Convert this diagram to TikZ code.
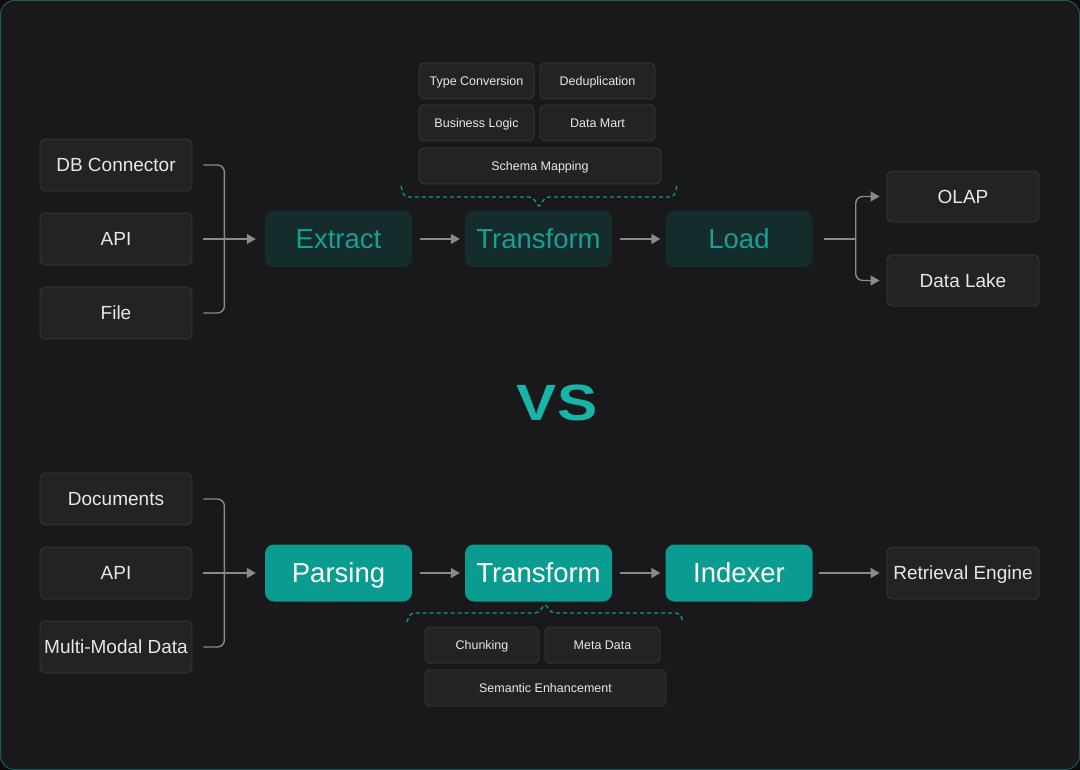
\documentclass[tikz,border=0pt]{standalone}
\usepackage{fontspec}
\setmainfont{Liberation Sans}
\usetikzlibrary{positioning, arrows.meta, calc}
\definecolor{pageBg}{RGB}{ 12, 12, 14}
\definecolor{panelBg}{RGB}{ 25, 24, 27}
\definecolor{panelEdge}{RGB}{ 30, 90, 85}
\definecolor{boxFill}{RGB}{ 35, 35, 38}
\definecolor{boxEdge}{RGB}{ 58, 58, 61}
\definecolor{boxText}{RGB}{232,232,232}
\definecolor{edgeBase}{RGB}{138,138,140}
\definecolor{tealDark}{RGB}{ 20, 44, 43}
\definecolor{tealText}{RGB}{ 24,160,148}
\definecolor{tealFill}{RGB}{ 10,156,145}
\definecolor{tealVs}{RGB}{ 22,181,168}
\tikzset{
    srcnode/.style={
        rounded corners=5pt, draw=boxEdge, fill=boxFill, line width=0.8pt,
        text=boxText, font=\fontsize{19}{22}\selectfont,
        text height=13.6pt, text depth=0pt,
        minimum width=152pt, minimum height=52pt, inner sep=0pt
    },
    detnode/.style={
        rounded corners=5pt, draw=boxEdge, fill=boxFill, line width=0.8pt,
        text=boxText, font=\fontsize{12.5}{15}\selectfont,
        text height=9pt, text depth=0pt,
        minimum width=115pt, minimum height=36pt, inner sep=0pt
    },
    etlnode/.style={
        rounded corners=9pt, fill=tealDark, text=tealText,
        font=\fontsize{27.5}{30}\selectfont,
        text height=19.7pt, text depth=0pt,
        minimum width=147pt, minimum height=57pt, inner sep=0pt
    },
    ragnode/.style={
        rounded corners=9pt, fill=tealFill, text=white,
        font=\fontsize{27.5}{30}\selectfont,
        text height=19.7pt, text depth=0pt,
        minimum width=147pt, minimum height=57pt, inner sep=0pt
    },
    flow/.style={-{Triangle[length=9pt, width=10pt]}, line width=1.4pt, draw=edgeBase},
    brk/.style={line width=1.4pt, draw=edgeBase, rounded corners=7pt},
    brace/.style={line width=1.3pt, draw=tealFill, dash pattern=on 4pt off 3pt, rounded corners=4pt}
}
\begin{document}
\begin{tikzpicture}[x=1pt, y=-1pt]
  \useasboundingbox (0,0) rectangle (1080,770);
  \fill[pageBg] (0,0) rectangle (1080,770);
  \filldraw[fill=panelBg, draw=panelEdge, line width=1pt, rounded corners=14pt]
    (0.5,0.5) rectangle (1079.5,769.5);

  % ETL
  \node[srcnode] (DB)   at (116,165) {DB Connector};
  \node[srcnode] (API1) at (116,239) {API};
  \node[srcnode] (File) at (116,313) {File};
  \node[etlnode] (Ex)   at (338.5,239) {Extract};
  \node[etlnode] (Tr1)  at (538.5,239) {Transform};
  \node[etlnode] (Load) at (739,239) {Load};
  \node[srcnode, minimum height=51pt] (OLAP) at (963,196.5) {OLAP};
  \node[srcnode, minimum height=51pt] (DL)   at (963,280.5) {Data Lake};
  \node[detnode] (TC) at (476.5,81)  {Type Conversion};
  \node[detnode] (DD) at (597.5,81)  {Deduplication};
  \node[detnode] (BL) at (476.5,123) {Business Logic};
  \node[detnode] (DM) at (597.5,123) {Data Mart};
  \node[detnode, minimum width=242pt] (SM) at (540,166) {Schema Mapping};

  \draw[brk] ([xshift=11pt]DB.east) -- ++(21,0) |- ([xshift=11pt]File.east);
  \draw[flow] ([xshift=11pt]API1.east) -- ([xshift=-9pt]Ex.west);
  \draw[flow] ([xshift=8pt]Ex.east) -- ([xshift=-5pt]Tr1.west);
  \draw[flow] ([xshift=8pt]Tr1.east) -- ([xshift=-5pt]Load.west);
  \draw[brk] ([xshift=11pt]Load.east) -- ++(32,0) coordinate (fork);
  \draw[flow, rounded corners=7pt] (fork) |- ([xshift=-7pt]OLAP.west);
  \draw[flow, rounded corners=7pt] (fork) |- ([xshift=-7pt]DL.west);
  \draw[brace] (401,186) -- (404,197) -- (533,197) -- (539,208)
    -- (545,197) -- (674,197) -- (677,186);

  % VS
  \node[text=tealVs, font=\fontsize{51}{51}\selectfont\bfseries,
        text height=36.5pt, text depth=0pt, inner sep=0pt] (VS) at (557,402)
        {\scalebox{1.18}[1]{VS}};

  % RAG
  \node[srcnode] (Doc)  at (116,499) {Documents};
  \node[srcnode] (API2) at (116,573) {API};
  \node[srcnode] (MMD)  at (116,647) {Multi-Modal Data};
  \node[ragnode] (Pa)   at (338.5,573) {Parsing};
  \node[ragnode] (Tr2)  at (538.5,573) {Transform};
  \node[ragnode] (Ix)   at (739,573) {Indexer};
  \node[srcnode] (RE)   at (963,573) {Retrieval Engine};
  \node[detnode, minimum width=114pt] (Ch) at (482,645) {Chunking};
  \node[detnode] (MD) at (602.5,645) {Meta Data};
  \node[detnode, minimum width=241pt] (SE) at (545.5,688) {Semantic Enhancement};

  \draw[brk] ([xshift=11pt]Doc.east) -- ++(21,0) |- ([xshift=11pt]MMD.east);
  \draw[flow] ([xshift=11pt]API2.east) -- ([xshift=-9pt]Pa.west);
  \draw[flow] ([xshift=8pt]Pa.east) -- ([xshift=-5pt]Tr2.west);
  \draw[flow] ([xshift=8pt]Tr2.east) -- ([xshift=-5pt]Ix.west);
  \draw[flow] ([xshift=6pt]Ix.east) -- ([xshift=-7pt]RE.west);
  \draw[brace] (407,622) -- (410,613) -- (539,613) -- (545,603)
    -- (551,613) -- (680,613) -- (683,622);
\end{tikzpicture}
\end{document}
